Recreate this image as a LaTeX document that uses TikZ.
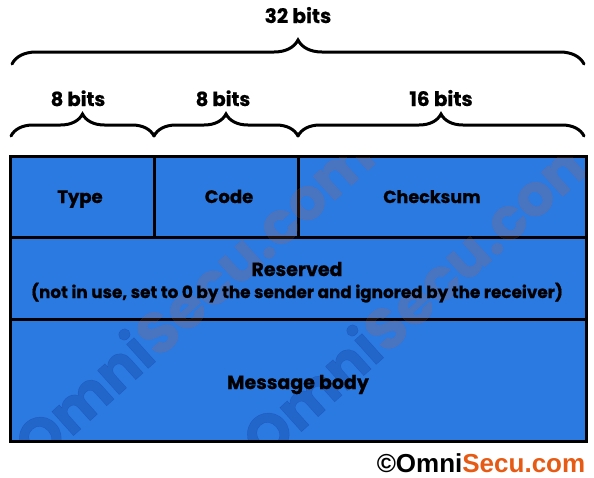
\documentclass[tikz,border=0pt]{standalone}
\usepackage{fontspec}
\setmainfont{Poppins}[BoldFont={Poppins Bold},BoldFeatures={FakeBold=0.6}]
\newfontfamily\copyfont{Liberation Sans}
\usetikzlibrary{decorations.pathreplacing}
\definecolor{cellblue}{RGB}{42,122,226}
\definecolor{omniorange}{RGB}{230,90,20}
\begin{document}
\begin{tikzpicture}[x=1pt,y=-1pt,
  cell/.style={draw=black,line width=3pt,fill=cellblue,inner sep=0pt},
  lab/.style={font=\bfseries\fontsize{#1}{#1}\selectfont,inner sep=0pt},
  curly/.style={decorate,decoration={brace,amplitude=#1},line width=3pt,line cap=round},
  wm/.style={font=\bfseries\fontsize{58}{60}\selectfont,rotate=42,opacity=0.16}
]
\useasboundingbox (0,0) rectangle (594,477);
\fill[white] (0,0) rectangle (594,477);
% cells
\node[cell,minimum width=144pt,minimum height=81pt] (type) at (82,196.5) {};
\node[cell,minimum width=144pt,minimum height=81pt] (code) at (226,196.5) {};
\node[cell,minimum width=288pt,minimum height=81pt] (check) at (442,196.5) {};
\node[cell,minimum width=576pt,minimum height=82pt] (res) at (298,278) {};
\node[cell,minimum width=576pt,minimum height=122pt] (msg) at (298,380) {};
% watermarks, clipped to the table
\begin{scope}
\clip (11.5,157.5) rectangle (584.5,439.5);
\node[wm] (wm1) at (192,298) {\textcolor{black!70!blue}{Omni}\textcolor{omniorange}{Secu.com}};
\node[wm] (wm2) at (420,294) {\textcolor{black!70!blue}{Omni}\textcolor{omniorange}{Secu.com}};
\end{scope}
% texts
\node[lab=18,anchor=base] (tType) at (80,203) {Type};
\node[lab=18,anchor=base] (tCode) at (229,203) {Code};
\node[lab=17.5,anchor=base] (tCheck) at (432,203) {Checksum};
\node[lab=19,anchor=base] (tRes) at (297,276) {Reserved};
\node[lab=16.8,anchor=base] (tNote) at (297,298) {(not in use, set to 0 by the sender and ignored by the receiver)};
\node[lab=19,anchor=base] (tMsg) at (298,389) {Message body};
% braces
\coordinate (b0l) at (12,64);
\coordinate (b0r) at (584,64);
\draw[curly=24pt] (b0l) -- (b0r);
\node[lab=20,anchor=base] (l32) at (298,23) {32 bits};
\coordinate (s1) at (11,136);
\coordinate (s2) at (154,136);
\coordinate (s3) at (298,136);
\coordinate (s4) at (584,136);
\draw[curly=22pt] (s1) -- (s2);
\draw[curly=22pt] (s2) -- (s3);
\draw[curly=22pt] (s3) -- (s4);
\node[lab=19.5,anchor=base] (l8a) at (78,106) {8 bits};
\node[lab=19.5,anchor=base] (l8b) at (223,106) {8 bits};
\node[lab=20,anchor=base] (l16) at (441,106) {16 bits};
% copyright
\node[font=\copyfont\bfseries\fontsize{26}{28}\selectfont,inner sep=0pt] (copy) at (481,463) {\textcolor{black}{\textcopyright Omni}\textcolor{omniorange}{Secu.com}};
\end{tikzpicture}
\end{document}
